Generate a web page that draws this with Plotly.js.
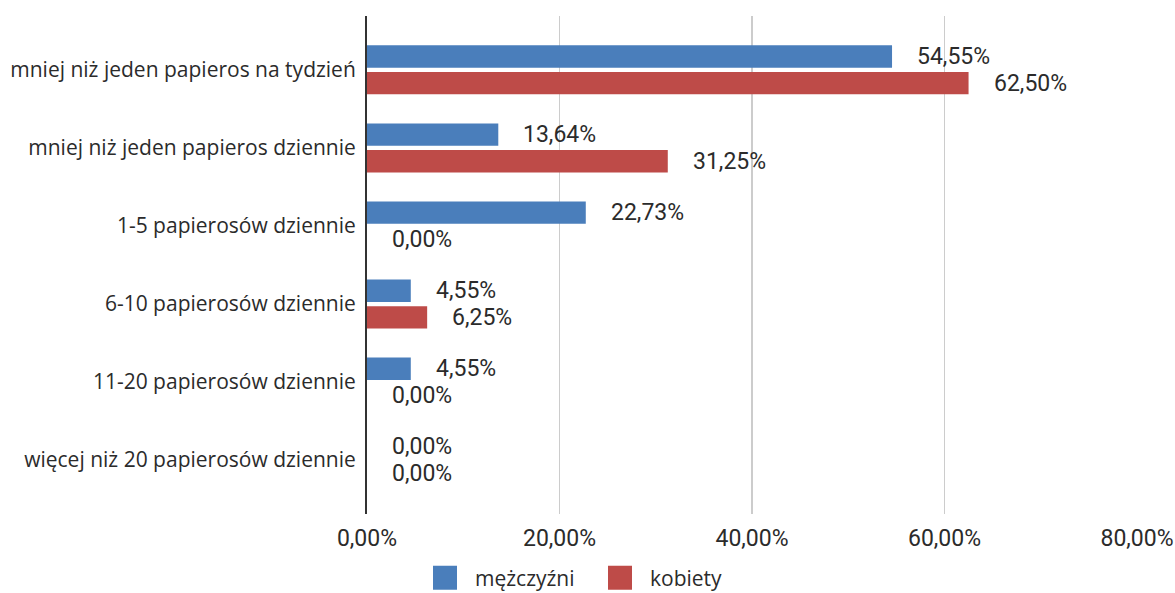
<!DOCTYPE html>
<html>
<head>
<meta charset="utf-8">
<script src="https://cdn.plot.ly/plotly-3.0.1.min.js"></script>
<style>html,body{margin:0;padding:0;background:#fff;}#chart{width:1175px;height:593px;}</style>
</head>
<body>
<div id="chart"></div>
<script>
const categories = [
  "mniej niż jeden papieros na tydzień",
  "mniej niż jeden papieros dziennie",
  "1-5 papierosów dziennie",
  "6-10 papierosów dziennie",
  "11-20 papierosów dziennie",
  "więcej niż 20 papierosów dziennie"
];
const seriesNames = ["mężczyźni", "kobiety"];
const menValues = [0.5455, 0.1364, 0.2273, 0.0455, 0.0455, 0.0];
const womenValues = [0.6250, 0.3125, 0.0, 0.0625, 0.0, 0.0];
const tickValues = [0, 0.2, 0.4, 0.6, 0.8];

const colors = ["#4a7ebb", "#be4b48"];
const series = [menValues, womenValues];
const numFont = "Roboto, sans-serif";
const catFont = "'Open Sans', sans-serif";
const textColor = '#2b2b2b';

function fmt(v) { return (v * 100).toFixed(2).replace('.', ',') + '%'; }

const traces = series.map((vals, i) => ({
  type: 'bar',
  orientation: 'h',
  name: seriesNames[i],
  x: vals,
  y: categories,
  marker: { color: colors[i] },
  showlegend: false,
  hoverinfo: 'x+y'
}));

const annotations = [];
series.forEach((vals, i) => {
  vals.forEach((v, j) => {
    annotations.push({
      x: v, y: categories[j], xref: 'x', yref: 'y',
      text: fmt(v), showarrow: false,
      xanchor: 'left', yanchor: 'middle',
      xshift: 23, yshift: i === 0 ? 13.3 : -13.3,
      font: { family: numFont, size: 23, color: textColor }
    });
  });
});

// custom legend
const legendX = [0.0857, 0.3130];
const legendY = -0.128;
const shapes = [];
seriesNames.forEach((n, i) => {
  shapes.push({
    type: 'rect', xref: 'paper', yref: 'paper',
    xsizemode: 'pixel', ysizemode: 'pixel',
    xanchor: legendX[i], yanchor: legendY,
    x0: 0, x1: 24, y0: -12, y1: 12,
    fillcolor: colors[i], line: { width: 0 }
  });
  annotations.push({
    x: legendX[i], y: legendY, xref: 'paper', yref: 'paper',
    text: n, showarrow: false, xanchor: 'left', yanchor: 'middle',
    xshift: 40, font: { family: catFont, size: 21, color: textColor }
  });
});

const layout = {
  width: 1175, height: 593,
  margin: { l: 367, r: 38, t: 16, b: 79 },
  paper_bgcolor: '#fff', plot_bgcolor: '#fff',
  separators: ', ',
  barmode: 'group',
  bargap: 0.318,
  bargroupgap: 0.16,
  showlegend: false,
  xaxis: {
    range: [0, 0.8],
    tickvals: tickValues,
    tickformat: '.2%',
    showgrid: true, gridcolor: '#cccccc', gridwidth: 1.5,
    zeroline: false, showline: false,
    ticks: '', ticklabelstandoff: 8,
    tickfont: { family: numFont, size: 23, color: textColor },
    fixedrange: true
  },
  yaxis: {
    type: 'category',
    range: [5.69, -0.69],
    showgrid: false, zeroline: false,
    showline: true, linecolor: '#333', linewidth: 2,
    ticks: '', ticklabelstandoff: 5,
    tickfont: { family: catFont, size: 21, color: textColor },
    fixedrange: true
  },
  annotations: annotations,
  shapes: shapes
};

Plotly.newPlot('chart', traces, layout, { displayModeBar: false, staticPlot: true });
</script>
</body>
</html>
